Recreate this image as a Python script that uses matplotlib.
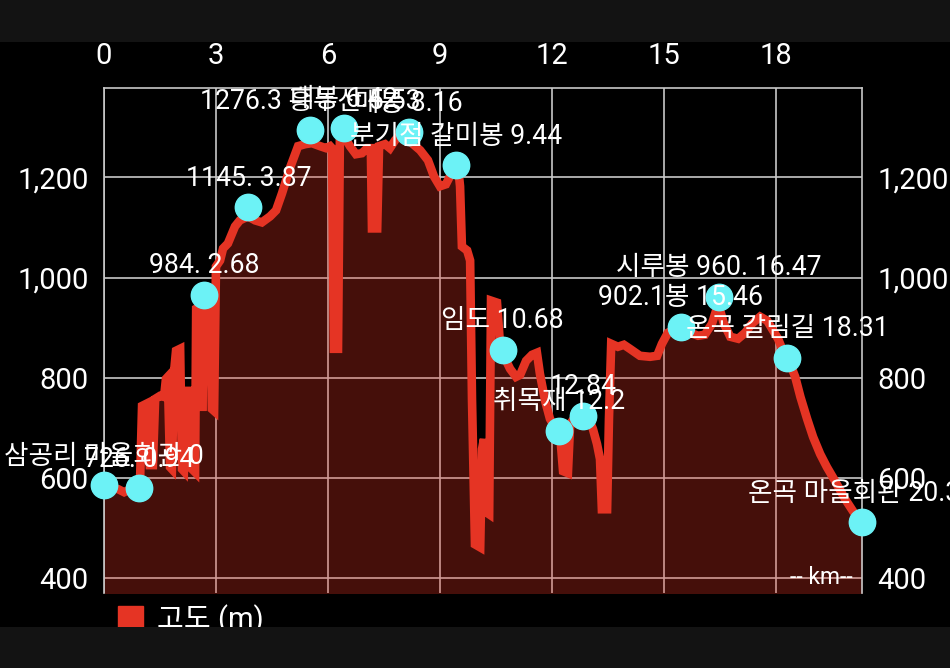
import matplotlib
matplotlib.use("Agg")
import matplotlib.pyplot as plt
from matplotlib.patches import Rectangle, Patch
from matplotlib.ticker import FuncFormatter

plt.rcParams['font.family'] = ['Roboto', 'Noto Sans CJK KR']

# ---- data ----
dist_km = [0.00, 0.16, 0.38, 0.54, 0.70, 0.88, 0.96, 1.02, 1.18, 1.23, 1.31, 1.37, 1.50, 1.61,
           1.66, 1.71, 1.77, 1.82, 1.88, 1.93, 2.04, 2.09, 2.14, 2.20, 2.30, 2.36, 2.44, 2.47,
           2.57, 2.63, 2.71, 2.84, 2.89, 2.95, 3.00, 3.11, 3.19, 3.32, 3.51, 3.64, 3.86, 4.05,
           4.23, 4.45, 4.61, 4.77, 4.98, 5.20, 5.39, 5.57, 5.79, 5.95, 6.06, 6.11, 6.16, 6.27,
           6.32, 6.46, 6.59, 6.75, 6.91, 7.05, 7.15, 7.18, 7.32, 7.37, 7.53, 7.66, 7.80, 7.93,
           8.09, 8.25, 8.47, 8.68, 8.84, 9.00, 9.16, 9.27, 9.38, 9.49, 9.54, 9.59, 9.73, 9.81,
           9.86, 9.94, 10.08, 10.13, 10.18, 10.24, 10.32, 10.37, 10.53, 10.61, 10.75, 10.88,
           11.04, 11.15, 11.31, 11.47, 11.60, 11.68, 11.82, 11.95, 12.11, 12.22, 12.30, 12.43,
           12.49, 12.62, 12.81, 12.97, 13.10, 13.21, 13.29, 13.34, 13.48, 13.53, 13.59, 13.77,
           13.93, 14.09, 14.36, 14.63, 14.82, 14.95, 15.11, 15.30, 15.49, 15.70, 15.92, 16.10,
           16.29, 16.40, 16.51, 16.61, 16.78, 16.99, 17.18, 17.36, 17.58, 17.77, 17.90, 18.06,
           18.19, 18.33, 18.52, 18.66, 18.84, 19.00, 19.19, 19.37, 19.59, 19.86, 20.07, 20.31]
elev_m = [586, 582, 578, 572, 578, 574, 578, 744, 750, 626, 626, 758, 764, 762,
          798, 802, 622, 618, 814, 854, 858, 618, 614, 774, 774, 618, 612, 938,
          942, 734, 958, 958, 738, 734, 1022, 1034, 1058, 1068, 1102, 1114, 1122, 1114,
          1110, 1122, 1134, 1168, 1218, 1262, 1266, 1268, 1262, 1258, 1262, 1258, 858, 858,
          1278, 1278, 1262, 1246, 1248, 1258, 1258, 1098, 1098, 1262, 1266, 1258, 1274, 1284,
          1278, 1268, 1254, 1234, 1202, 1182, 1186, 1202, 1222, 1218, 1182, 1062, 1054, 1034,
          758, 468, 462, 658, 678, 532, 528, 954, 950, 868, 838, 818,
          802, 806, 834, 846, 850, 808, 754, 718, 698, 688, 614, 610,
          708, 722, 726, 722, 698, 668, 638, 538, 538, 718, 868, 862,
          866, 858, 844, 842, 844, 868, 890, 898, 898, 890, 884, 886,
          908, 934, 934, 908, 882, 878, 890, 908, 922, 914, 898, 878,
          854, 838, 802, 762, 718, 682, 648, 622, 594, 558, 534, 512]

wp_km = [0.0, 0.94, 2.68, 3.87, 5.53, 6.42, 8.16, 9.44, 10.68, 12.2, 12.84,
         15.46, 16.47, 18.31, 20.31]
wp_elev = [586, 580, 966, 1140, 1294, 1298, 1290, 1224, 856, 694, 724,
           902, 962, 840, 512]
wp_labels = ["삼공리 마을회관 0", "726. 0.94", "984. 2.68", "1145. 3.87",
             "1276.3 흥두산 5.53", "대봉 6.42", "매봉 8.16", "분기점 갈미봉 9.44",
             "임도 10.68", "취목재 12.2", "12.84", "902.1봉 15.46",
             "시루봉 960. 16.47", "온곡 갈림길 18.31", "온곡 마을회관 20.31"]

x_ticks = [0, 3, 6, 9, 12, 15, 18]
y_ticks = [400, 600, 800, 1000, 1200]
legend_label = "고도 (m)"
unit_label = "-- km--"

RED = '#e53424'
CYAN = '#6cf2f6'
GRID = '#c8c8c8'

fig = plt.figure(figsize=(9.5, 6.68), dpi=100, facecolor='black')
ax = fig.add_axes([104/950, 1 - 593/668, (862-104)/950, (593-88)/668])
ax.set_facecolor('black')

ax.set_xlim(0, 20.31)
ax.set_ylim(371, 1378)

ax.fill_between(dist_km, elev_m, 0, color=RED, alpha=0.3, linewidth=0, zorder=1)
ax.plot(dist_km, elev_m, color=RED, linewidth=6.2, solid_joinstyle='miter', zorder=2)
ax.plot(wp_km, wp_elev, linestyle='none', marker='o', markersize=19,
        markerfacecolor=CYAN, markeredgecolor=CYAN, zorder=3, clip_on=False)

for k, e, t in zip(wp_km, wp_elev, wp_labels):
    ax.annotate(t, (k, e), xytext=(0, 15.5), textcoords='offset points',
                ha='center', va='baseline', color='white', fontsize=19.2,
                zorder=4, annotation_clip=False, clip_on=False)

ax.text(0.988, 0.008, unit_label, transform=ax.transAxes, ha='right', va='bottom',
        color='white', fontsize=16.5, zorder=4)

ax.set_xticks(x_ticks)
ax.set_yticks(y_ticks)
ax.yaxis.set_major_formatter(FuncFormatter(lambda v, p: f"{int(v):,}"))
ax.xaxis.tick_top()
ax.tick_params(axis='x', which='both', length=0, pad=13, labelsize=21,
               labelcolor='white', labeltop=True, labelbottom=False)
ax.tick_params(axis='y', which='both', length=0, pad=11, labelsize=21,
               labelcolor='white', labelleft=True, labelright=True)
ax.grid(True, color=GRID, linewidth=1.2, zorder=0)
ax.set_axisbelow(True)
for side in ['left', 'right', 'top']:
    ax.spines[side].set_color(GRID)
    ax.spines[side].set_linewidth(1.2)
ax.spines['bottom'].set_visible(False)

leg = ax.legend(handles=[Patch(facecolor=RED, edgecolor=RED, label=legend_label)],
                loc='upper left', bbox_to_anchor=(118/950, 1 - 604/668),
                bbox_transform=fig.transFigure, frameon=False, fontsize=21,
                handlelength=0.85, handleheight=0.85, handletextpad=0.5,
                borderpad=0, borderaxespad=0, labelcolor='white')

# top / bottom device bars
fig.add_artist(Rectangle((0, 1 - 42/668), 1, 42/668, transform=fig.transFigure,
                         facecolor='#131313', edgecolor='none', zorder=10))
fig.add_artist(Rectangle((0, 0), 1, 41/668, transform=fig.transFigure,
                         facecolor='#131313', edgecolor='none', zorder=10))

fig.savefig('out.png', dpi=100, facecolor='black')
